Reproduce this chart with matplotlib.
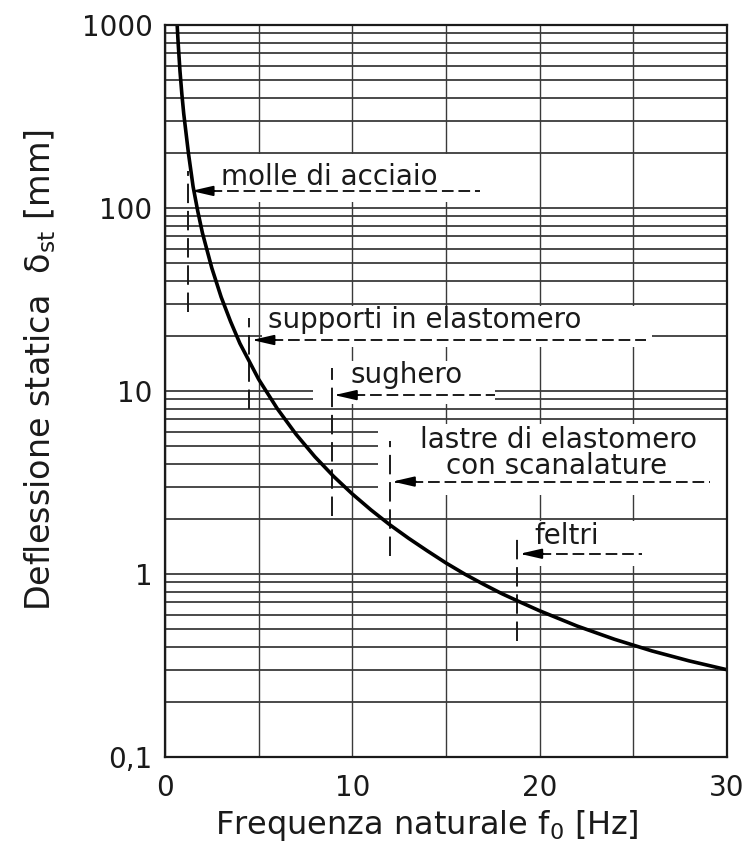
import matplotlib
matplotlib.use('Agg')
import matplotlib.pyplot as plt
from matplotlib.ticker import FixedLocator, LogLocator, NullFormatter
from matplotlib.patches import Rectangle

# curve: natural frequency [Hz] -> static deflection [mm]
freq = [0.65, 0.7, 0.8, 0.9, 1.0, 1.25, 1.5, 1.75, 2.0, 2.5, 3.0, 3.5, 4.0,
        5.0, 6.0, 7.0, 8.0, 9.0, 10.0, 11.0, 12.0, 13.0, 14.0, 15.0, 16.0,
        17.0, 18.0, 19.0, 20.0, 22.0, 24.0, 26.0, 28.0, 30.0]
defl = [1000, 806, 560, 420, 328, 200, 131, 96, 73, 47, 32.6, 24, 18.2,
        11.6, 8.0, 5.8, 4.38, 3.42, 2.74, 2.24, 1.86, 1.57, 1.34, 1.15, 1.0,
        0.88, 0.78, 0.70, 0.63, 0.52, 0.44, 0.38, 0.335, 0.30]

x_ticks = [0, 10, 20, 30]
y_ticks = [0.1, 1, 10, 100, 1000]
y_tick_labels = ['0,1', '1', '10', '100', '1000']

# materials: lower frequency limit and the deflection where the arrow sits
materials = ['molle di acciaio', 'supporti in elastomero', 'sughero',
             'lastre di elastomero', 'feltri']
f_limit = [1.25, 4.5, 8.9, 12.0, 18.8]
arrow_defl = [124, 19, 9.5, 3.2, 1.29]
arrow_end = [16.8, 25.7, 17.6, 29.1, 25.5]
limit_top = [160, 25, 13.3, 5.3, 1.66]
limit_bot = [27, 8.0, 2.08, 1.25, 0.43]

fig = plt.figure(figsize=(7.5, 8.46), dpi=100)
ax = fig.add_axes([0.22, 0.1052, 0.749, 0.8652])
ax.set_yscale('log')
ax.set_xlim(0, 30)
ax.set_ylim(0.1, 1000)

ax.xaxis.set_major_locator(FixedLocator(x_ticks))
ax.xaxis.set_minor_locator(FixedLocator([5, 15, 25]))
ax.set_yticks(y_ticks)
ax.set_yticklabels(y_tick_labels)
ax.yaxis.set_minor_locator(LogLocator(base=10, subs=range(2, 10)))
ax.yaxis.set_minor_formatter(NullFormatter())
ax.tick_params(which='both', length=0, labelsize=20, colors='#1a1a1a')
ax.tick_params(axis='x', pad=12)
ax.tick_params(axis='y', pad=9)

ax.set_axisbelow(True)
ax.grid(True, which='both', axis='y', color='#3a3a3a', lw=1.3)
ax.grid(True, which='both', axis='x', color='#3a3a3a', lw=1.0)
for s in ax.spines.values():
    s.set_linewidth(1.6)
    s.set_color('#1a1a1a')
    s.set_zorder(6)

# white patches where the labels break the grid
masks = [(1.45, 16.9, 108, 197), (5.2, 26.0, 17.5, 29), (7.9, 17.6, 8.5, 14.5),
         (11.4, 30.0, 2.7, 6.6), (19.0, 26.0, 1.1, 1.95)]
for f1, f2, d1, d2 in masks:
    ax.add_patch(Rectangle((f1, d1), f2 - f1, d2 - d1, facecolor='white',
                           edgecolor='none', zorder=1.5))

ax.plot(freq, defl, color='black', lw=2.6, zorder=4)

for i in range(len(materials)):
    ax.plot([f_limit[i], f_limit[i]], [limit_bot[i], limit_top[i]],
            color='#1a1a1a', lw=1.4, dashes=(10, 4), zorder=3)
    ax.plot([f_limit[i] + 0.3, arrow_end[i]], [arrow_defl[i], arrow_defl[i]],
            color='#1a1a1a', lw=1.4, dashes=(6, 2.5), zorder=3)
    ax.annotate('', xy=(f_limit[i] + 0.15, arrow_defl[i]),
                xytext=(f_limit[i] + 1.4, arrow_defl[i]),
                arrowprops=dict(arrowstyle='-|>,head_length=1.3,head_width=0.3',
                                color='black', lw=1.4, shrinkA=0, shrinkB=0),
                zorder=4)

tkw = dict(fontsize=20, color='#1a1a1a', va='baseline', zorder=5)
ax.text(3.0, 134, 'molle di acciaio', **tkw)
ax.text(5.5, 22, 'supporti in elastomero', **tkw)
ax.text(9.9, 11, 'sughero', **tkw)
ax.text(21.0, 4.9, 'lastre di elastomero', ha='center', **tkw)
ax.text(20.9, 3.5, 'con scanalature', ha='center', **tkw)
ax.text(19.7, 1.46, 'feltri', **tkw)

ax.set_xlabel('Frequenza naturale f$_0$ [Hz]', fontsize=23, color='#1a1a1a')
ax.set_ylabel('Deflessione statica  δ$_{\\rm st}$ [mm]', fontsize=24,
              color='#1a1a1a')
ax.xaxis.set_label_coords(0.466, -0.07)
ax.xaxis.label.set_va('top')
ax.yaxis.set_label_coords(-0.19, 0.529)

fig.savefig('out.png', dpi=100)
